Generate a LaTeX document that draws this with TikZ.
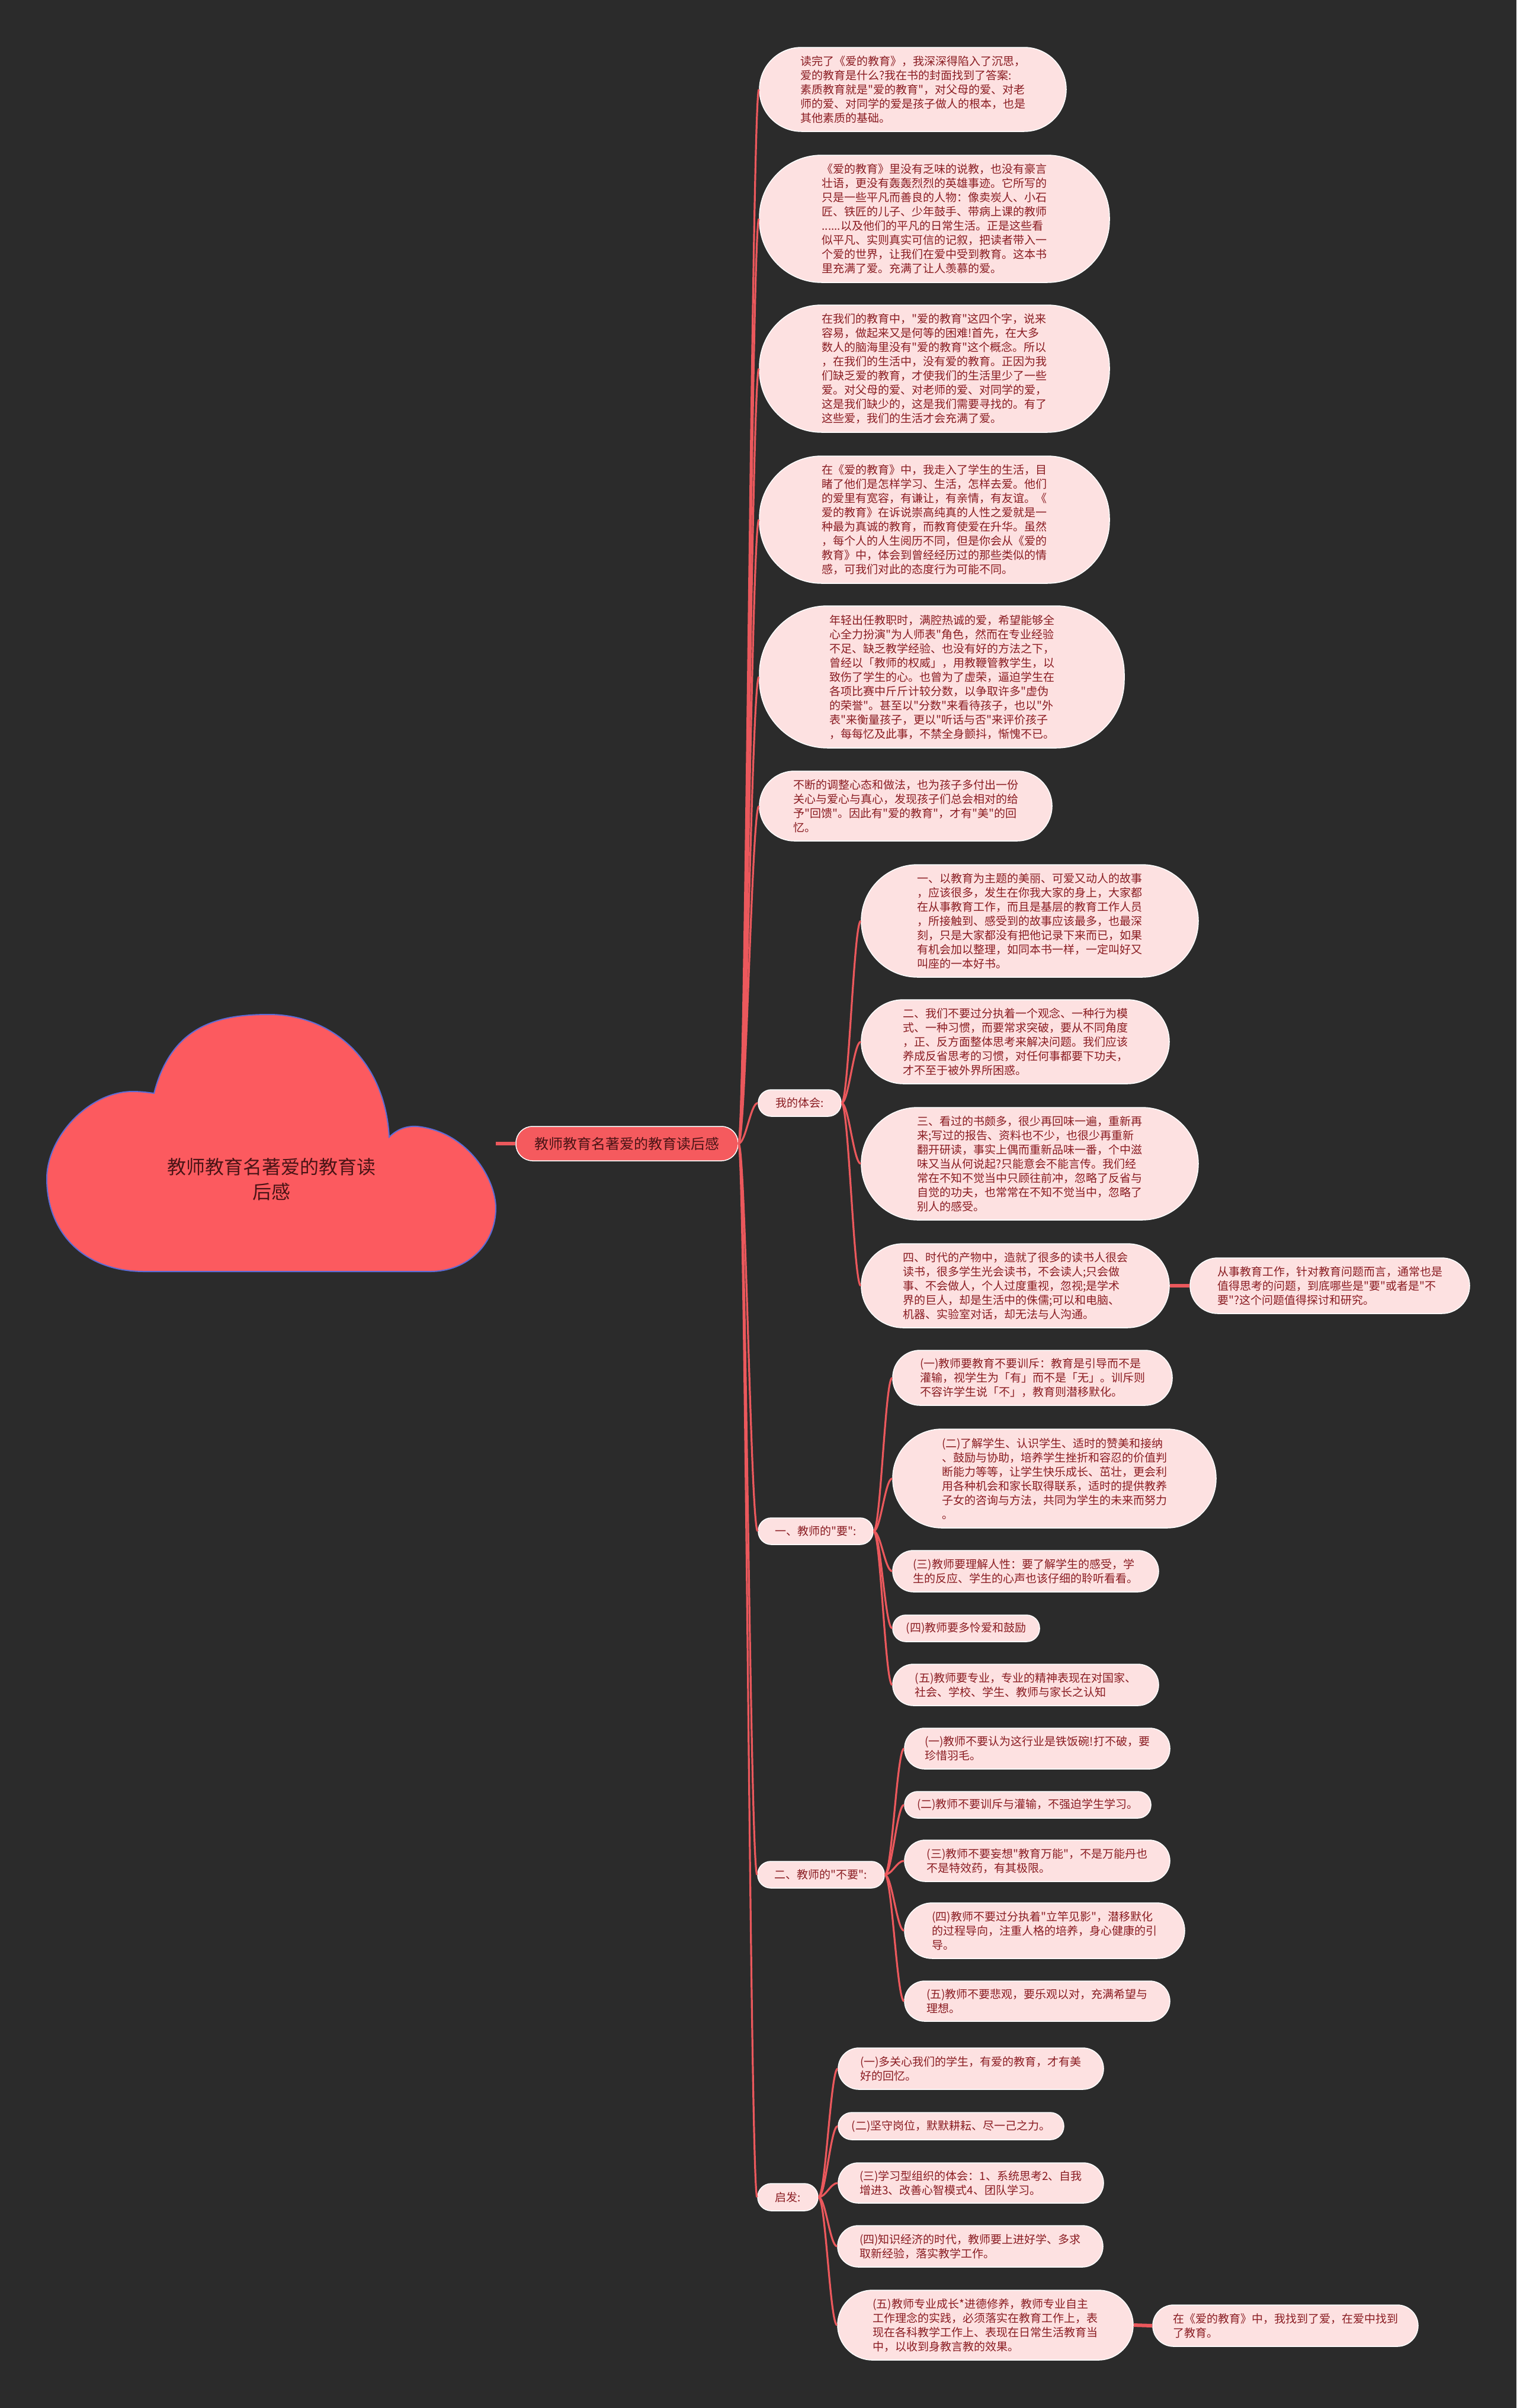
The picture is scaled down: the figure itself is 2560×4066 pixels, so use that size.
\documentclass[tikz,border=0pt]{standalone}
\usepackage{fontspec}
\setmainfont{Noto Sans CJK SC}[Ligatures=TeXOff]
\definecolor{bgc}{HTML}{2B2B2B}
\definecolor{boxfill}{HTML}{FDE1E1}
\definecolor{boxtext}{HTML}{8A1C22}
\definecolor{connc}{HTML}{EB585C}
\definecolor{cloudfill}{HTML}{FC5A5F}
\definecolor{cloudline}{HTML}{5B6BD6}
\definecolor{roottext}{HTML}{4A1416}
\definecolor{mainfill}{HTML}{F55A5E}
\begin{document}
\begin{tikzpicture}[x=1pt,y=-1pt,
  pbox/.style={draw=white, line width=1.5pt, fill=boxfill, text=boxtext, align=left, inner sep=0pt, font=\fontsize{19}{24}\selectfont},
  bx/.style n args={3}{pbox, minimum width=#1, minimum height=#2, rounded corners=#3},
  lnk/.style={draw=connc, line width=3.2pt},
  blnk/.style={draw=connc, line width=6pt},
]
\fill[bgc] (0,0) rectangle (2560,4066);
\useasboundingbox (0,0) rectangle (2560,4066);

% cloud
\draw[fill=cloudfill, draw=cloudline, line width=2pt]
  (260,1846) .. controls (290,1730) and (370,1713) .. (454,1713)
  .. controls (560,1713) and (650,1790) .. (657,1920)
  .. controls (675,1902) and (695,1900) .. (712,1903)
  .. controls (790,1915) and (837,1990) .. (837,2040)
  .. controls (837,2100) and (790,2147) .. (726,2147)
  -- (244,2147)
  .. controls (140,2147) and (79,2080) .. (79,1990)
  .. controls (79,1920) and (150,1843) .. (224,1843)
  .. controls (240,1843) and (252,1845) .. (260,1846) -- cycle;
\node[font=\fontsize{32}{42}\selectfont, text=roottext, align=center] (root) at (458,1991) {教师教育名著爱的教育读\\后感};
\coordinate (cloudR) at (837,1931);

% main topic
\node[draw=white, line width=1.5pt, fill=mainfill, text=roottext, rounded corners=28, minimum width=375, minimum height=58, inner sep=0pt, font=\fontsize{24}{28}\selectfont] (main) at (1058.5,1931) {教师教育名著爱的教育读后感};

% first level
\node[bx={518}{142}{71}] (n1) at (1541,151) {读完了《爱的教育》，我深深得陷入了沉思，\\爱的教育是什么?我在书的封面找到了答案:\\素质教育就是"爱的教育"，对父母的爱、对老\\师的爱、对同学的爱是孩子做人的根本，也是\\其他素质的基础。};
\node[bx={591}{215}{105}] (n2) at (1577.5,369.5) {《爱的教育》里没有乏味的说教，也没有豪言\\壮语，更没有轰轰烈烈的英雄事迹。它所写的\\只是一些平凡而善良的人物：像卖炭人、小石\\匠、铁匠的儿子、少年鼓手、带病上课的教师\\......以及他们的平凡的日常生活。正是这些看\\似平凡、实则真实可信的记叙，把读者带入一\\个爱的世界，让我们在爱中受到教育。这本书\\里充满了爱。充满了让人羡慕的爱。};
\node[bx={591}{215}{105}] (n3) at (1577.5,622.5) {在我们的教育中，"爱的教育"这四个字，说来\\容易，做起来又是何等的困难!首先，在大多\\数人的脑海里没有"爱的教育"这个概念。所以\\，在我们的生活中，没有爱的教育。正因为我\\们缺乏爱的教育，才使我们的生活里少了一些\\爱。对父母的爱、对老师的爱、对同学的爱，\\这是我们缺少的，这是我们需要寻找的。有了\\这些爱，我们的生活才会充满了爱。};
\node[bx={591}{215}{105}] (n4) at (1577.5,877.5) {在《爱的教育》中，我走入了学生的生活，目\\睹了他们是怎样学习、生活，怎样去爱。他们\\的爱里有宽容，有谦让，有亲情，有友谊。《\\爱的教育》在诉说崇高纯真的人性之爱就是一\\种最为真诚的教育，而教育使爱在升华。虽然\\，每个人的人生阅历不同，但是你会从《爱的\\教育》中，体会到曾经经历过的那些类似的情\\感，可我们对此的态度行为可能不同。};
\node[bx={616}{240}{115}] (n5) at (1590,1143) {年轻出任教职时，满腔热诚的爱，希望能够全\\心全力扮演"为人师表"角色，然而在专业经验\\不足、缺乏教学经验、也没有好的方法之下，\\曾经以「教师的权威」，用教鞭管教学生，以\\致伤了学生的心。也曾为了虚荣，逼迫学生在\\各项比赛中斤斤计较分数，以争取许多"虚伪\\的荣誉"。甚至以"分数"来看待孩子，也以"外\\表"来衡量孩子，更以"听话与否"来评价孩子\\，每每忆及此事，不禁全身颤抖，惭愧不已。};
\node[bx={494}{118}{59}] (n6) at (1529,1361) {不断的调整心态和做法，也为孩子多付出一份\\关心与爱心与真心，发现孩子们总会相对的给\\予"回馈"。因此有"爱的教育"，才有"美"的回\\忆。};

\node[bx={140}{45}{22}] (th) at (1350,1862.5) {我的体会:};
\node[bx={194}{45}{22}] (yao) at (1377,2585.5) {一、教师的"要":};
\node[bx={214}{45}{22}] (buyao) at (1386,3165.5) {二、教师的"不要":};
\node[bx={102}{46}{23}] (qf) at (1330,3710) {启发:};

% 我的体会
\node[bx={569}{190}{95}] (th1) at (1738.5,1555) {一、以教育为主题的美丽、可爱又动人的故事\\，应该很多，发生在你我大家的身上，大家都\\在从事教育工作，而且是基层的教育工作人员\\，所接触到、感受到的故事应该最多，也最深\\刻，只是大家都没有把他记录下来而已，如果\\有机会加以整理，如同本书一样，一定叫好又\\叫座的一本好书。};
\node[bx={520}{142}{71}] (th2) at (1714,1759) {二、我们不要过分执着一个观念、一种行为模\\式、一种习惯，而要常求突破，要从不同角度\\，正、反方面整体思考来解决问题。我们应该\\养成反省思考的习惯，对任何事都要下功夫，\\才不至于被外界所困惑。};
\node[bx={569}{190}{95}] (th3) at (1738.5,1965) {三、看过的书颇多，很少再回味一遍，重新再\\来;写过的报告、资料也不少，也很少再重新\\翻开研读，事实上偶而重新品味一番，个中滋\\味又当从何说起?只能意会不能言传。我们经\\常在不知不觉当中只顾往前冲，忽略了反省与\\自觉的功夫，也常常在不知不觉当中，忽略了\\别人的感受。};
\node[bx={520}{142}{71}] (th4) at (1714,2171) {四、时代的产物中，造就了很多的读书人很会\\读书，很多学生光会读书，不会读人;只会做\\事、不会做人，个人过度重视，忽视;是学术\\界的巨人，却是生活中的侏儒;可以和电脑、\\机器、实验室对话，却无法与人沟通。};
\node[bx={472}{94}{47}] (th4c) at (2245,2171) {从事教育工作，针对教育问题而言，通常也是\\值得思考的问题，到底哪些是"要"或者是"不\\要"?这个问题值得探讨和研究。};

% 要
\node[bx={472}{93}{46}] (y1) at (1743,2326.5) {(一)教师要教育不要训斥：教育是引导而不是\\灌输，视学生为「有」而不是「无」。训斥则\\不容许学生说「不」，教育则潜移默化。};
\node[bx={546}{167}{83}] (y2) at (1780,2496.5) {(二)了解学生、认识学生、适时的赞美和接纳\\、鼓励与协助，培养学生挫折和容忍的价值判\\断能力等等，让学生快乐成长、茁壮，更会利\\用各种机会和家长取得联系，适时的提供教养\\子女的咨询与方法，共同为学生的未来而努力\\。};
\node[bx={449}{70}{35}] (y3) at (1731.5,2653) {(三)教师要理解人性：要了解学生的感受，学\\生的反应、学生的心声也该仔细的聆听看看。};
\node[bx={248}{45}{22}] (y4) at (1631,2749.5) {(四)教师要多怜爱和鼓励};
\node[bx={449}{70}{35}] (y5) at (1731.5,2845) {(五)教师要专业，专业的精神表现在对国家、\\社会、学校、学生、教师与家长之认知};

% 不要
\node[bx={448}{69}{34}] (b1) at (1751,2952.5) {(一)教师不要认为这行业是铁饭碗!打不破，要\\珍惜羽毛。};
\node[bx={416}{45}{22}] (b2) at (1735,3047.5) {(二)教师不要训斥与灌输，不强迫学生学习。};
\node[bx={448}{70}{35}] (b3) at (1751,3142) {(三)教师不要妄想"教育万能"，不是万能丹也\\不是特效药，有其极限。};
\node[bx={473}{94}{47}] (b4) at (1763.5,3260) {(四)教师不要过分执着"立竿见影"，潜移默化\\的过程导向，注重人格的培养，身心健康的引\\导。};
\node[bx={448}{68}{34}] (b5) at (1751,3379) {(五)教师不要悲观，要乐观以对，充满希望与\\理想。};

% 启发
\node[bx={448}{70}{35}] (q1) at (1639,3493) {(一)多关心我们的学生，有爱的教育，才有美\\好的回忆。};
\node[bx={381}{46}{23}] (q2) at (1605.5,3590) {(二)坚守岗位，默默耕耘、尽一己之力。};
\node[bx={448}{68}{34}] (q3) at (1639,3686) {(三)学习型组织的体会：1、系统思考2、自我\\增进3、改善心智模式4、团队学习。};
\node[bx={448}{70}{35}] (q4) at (1638,3793) {(四)知识经济的时代，教师要上进好学、多求\\取新经验，落实教学工作。};
\node[bx={499}{118}{59}] (q5) at (1663.5,3926) {(五)教师专业成长*进德修养，教师专业自主\\工作理念的实践，必须落实在教育工作上，表\\现在各科教学工作上、表现在日常生活教育当\\中，以收到身教言教的效果。};
\node[bx={448}{70}{35}] (q5c) at (2170,3927) {在《爱的教育》中，我找到了爱，在爱中找到\\了教育。};

% connectors
\draw[blnk] (cloudR) -- (main.west);
\foreach \c in {n1,n2,n3,n4,n5,n6,th,yao,buyao,qf}
  \draw[lnk] (main.east) .. controls +(12,0) and +(-12,0) .. (\c.west);
\foreach \c in {th1,th2,th3,th4}
  \draw[lnk] (th.east) .. controls +(12,0) and +(-12,0) .. (\c.west);
\foreach \c in {y1,y2,y3,y4,y5}
  \draw[lnk] (yao.east) .. controls +(12,0) and +(-12,0) .. (\c.west);
\foreach \c in {b1,b2,b3,b4,b5}
  \draw[lnk] (buyao.east) .. controls +(12,0) and +(-12,0) .. (\c.west);
\foreach \c in {q1,q2,q3,q4,q5}
  \draw[lnk] (qf.east) .. controls +(12,0) and +(-12,0) .. (\c.west);
\draw[blnk] (th4.east) -- (th4c.west);
\draw[blnk] (q5.east) -- (q5c.west);
\end{tikzpicture}
\end{document}
